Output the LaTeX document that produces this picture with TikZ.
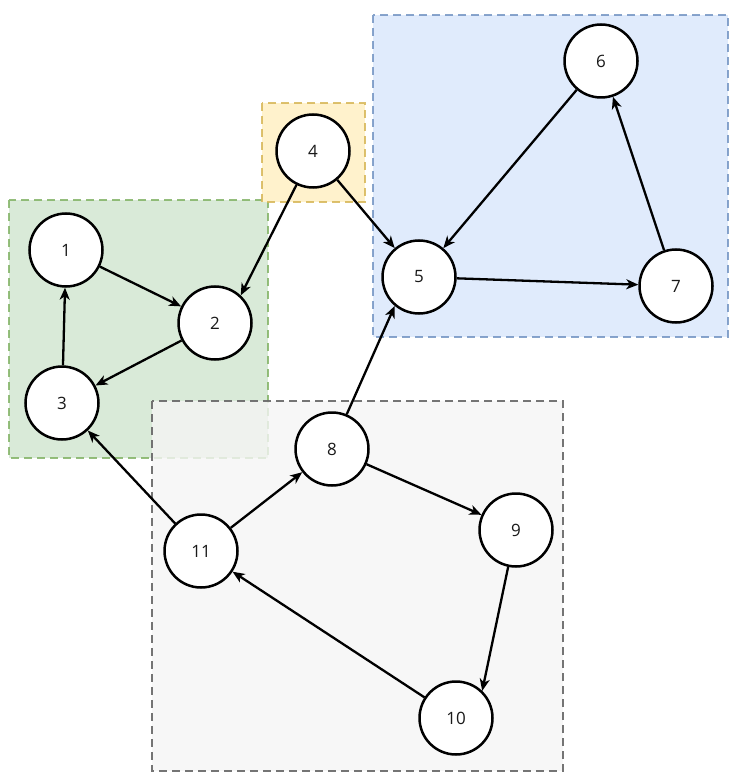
\documentclass[tikz,border=0pt]{standalone}
\usepackage{fontspec}
\setmainfont{Open Sans}
\usetikzlibrary{arrows.meta}

\definecolor{greenfill}{HTML}{D5E8D4}
\definecolor{greenline}{HTML}{82B366}
\definecolor{orangefill}{HTML}{FFF2CC}
\definecolor{orangeline}{HTML}{D6B656}
\definecolor{bluefill}{HTML}{DAE8FC}
\definecolor{blueline}{HTML}{6C8EBF}
\definecolor{grayfill}{HTML}{F5F5F5}
\definecolor{grayline}{HTML}{666666}

\begin{document}
\begin{tikzpicture}[x=1pt,y=-1pt,
	vtx/.style={circle,draw,line width=2.5pt,fill=white,minimum size=73pt,inner sep=0pt,
		font=\fontsize{17}{17}\selectfont,text=black!90},
	grp/.style={line width=2.2pt,dash pattern=on 8pt off 5pt},
	link/.style={line width=2.3pt,-{Stealth[length=12pt,width=10pt,inset=3.5pt]}}]

	\useasboundingbox (0,0) rectangle (741,783);

	% groups
	\filldraw[grp,draw=greenline,fill=greenfill,draw opacity=0.85,fill opacity=0.9] (9,200) rectangle (268,458);
	\filldraw[grp,draw=orangeline,fill=orangefill,draw opacity=0.85] (262,103) rectangle (365,202);
	\filldraw[grp,draw=blueline,fill=bluefill,fill opacity=0.85,draw opacity=0.8] (373,15) rectangle (728,337);
	\filldraw[grp,draw=grayline,fill=grayfill,fill opacity=0.8,draw opacity=0.9] (152,401) rectangle (563,771);

	% vertices
	\foreach \n/\x/\y in {1/66/250, 2/215/323, 3/62/403, 4/313/151, 5/419/277, 6/601/61,
		7/676/286, 8/332/449, 9/516/530, 10/456/718, 11/201/551}
		\node[vtx] (v\n) at (\x,\y) {\n};

	% edges
	\foreach \a/\b in {1/2, 2/3, 3/1, 4/5, 6/5, 5/7, 7/6, 8/9, 10/11, 11/8, 11/3}
		\draw[link] (v\a) -- (v\b);
	\draw[link] (v4.244) -- (v2.47);
	\draw[link] (v8.67) -- (v5.230);
	\draw[link] (v9.258) -- (v10.46);

\end{tikzpicture}
\end{document}
